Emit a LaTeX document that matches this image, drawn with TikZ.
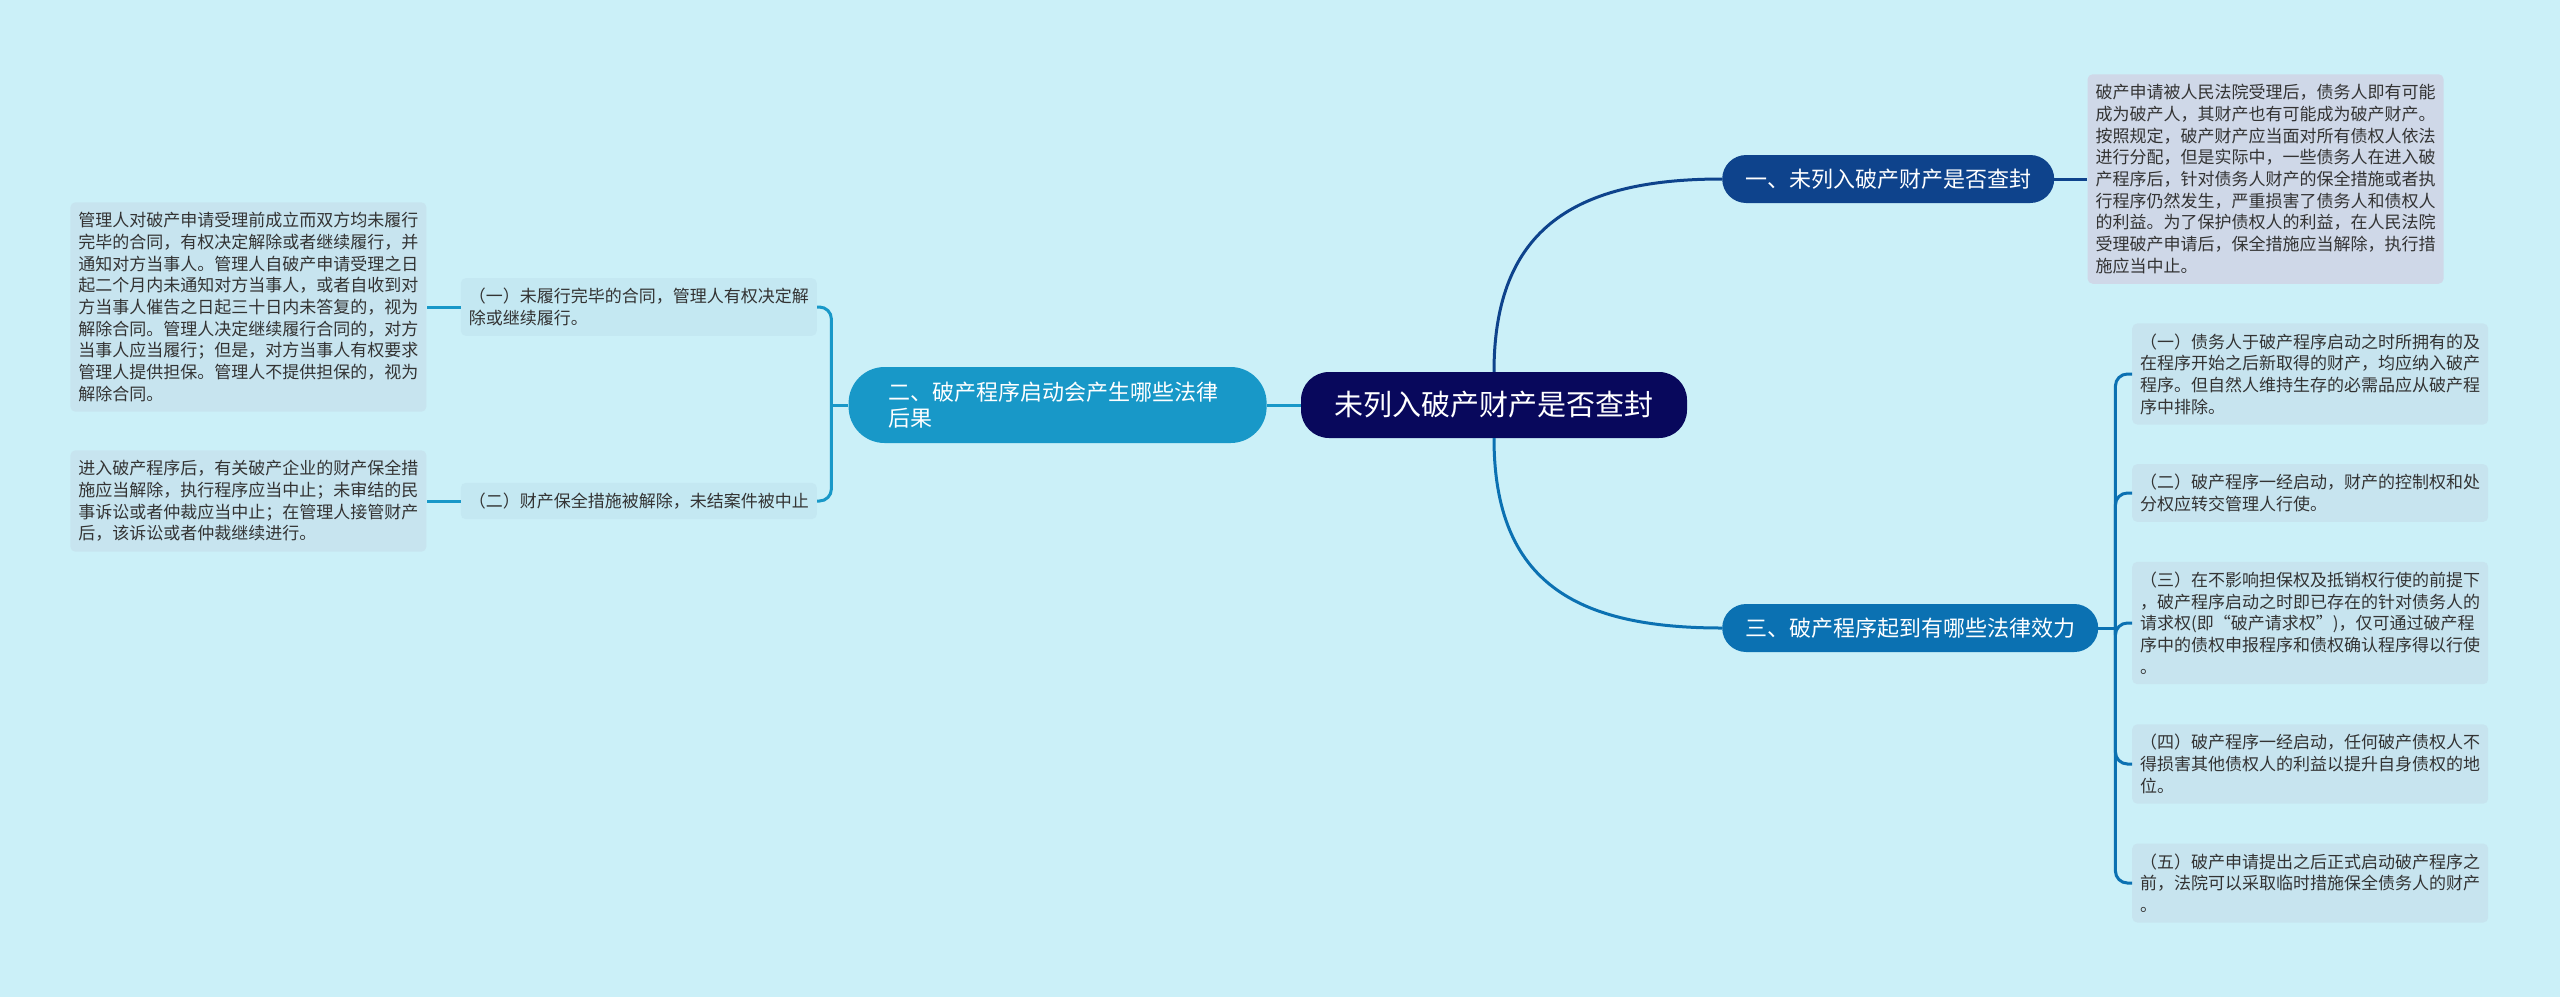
\documentclass[tikz,border=0pt]{standalone}
\usepackage{fontspec}
\usepackage{tikz}
\usetikzlibrary{positioning}
\setmainfont{Noto Sans CJK SC}
\definecolor{bgcol}{HTML}{CBF0F8}
\definecolor{rootcol}{HTML}{08085C}
\definecolor{firstcol}{HTML}{0E438C}
\definecolor{secondcol}{HTML}{1898C8}
\definecolor{thirdcol}{HTML}{0B71B2}
\definecolor{leafcol}{HTML}{C7E4EF}
\definecolor{notecol}{HTML}{CFD8E8}
\definecolor{midcol}{HTML}{C4E8F2}
\definecolor{textgray}{HTML}{333333}
\tikzset{
  rootnode/.style={
    rectangle, rounded corners=28pt,
    minimum width=386pt, minimum height=66pt,
    fill=rootcol, text=white, font=\fontsize{29}{34}\selectfont,
  },
  branch/.style={
    rectangle, rounded corners=24pt,
    minimum height=48pt, inner xsep=23pt,
    text=white, font=\fontsize{22}{26}\selectfont,
  },
  leaf/.style={
    rectangle, rounded corners=5pt,
    text width=340pt, inner xsep=8pt, inner ysep=10pt, align=left,
    fill=leafcol, text=textgray, font=\fontsize{17}{21.7}\selectfont,
  },
  link/.style={line width=3pt},
}
\begin{document}
\begin{tikzpicture}[x=1pt, y=-1pt]

  \fill[bgcol] (0,0) rectangle (2560,997);
  \useasboundingbox (0,0) rectangle (2560,997);

  \node[rootnode] (root) at (1494,405) {未列入破产财产是否查封};
  \node[branch, fill=firstcol, minimum width=332pt, anchor=west] (b1) at (1722,179) {一、未列入破产财产是否查封};
  \node[branch, fill=thirdcol, minimum width=376pt, anchor=west] (b3) at (1722,628) {三、破产程序起到有哪些法律效力};
  \node[branch, fill=secondcol, rounded corners=36pt, minimum height=76pt, inner xsep=40pt,
        text width=338pt, align=left, left=34pt of root] (b2) {二、破产程序启动会产生哪些法律\\后果};

  \node[leaf, fill=notecol, right=33pt of b1] (note) {破产申请被人民法院受理后，债务人即有可能\\成为破产人，其财产也有可能成为破产财产。\\按照规定，破产财产应当面对所有债权人依法\\进行分配，但是实际中，一些债务人在进入破\\产程序后，针对债务人财产的保全措施或者执\\行程序仍然发生，严重损害了债务人和债权人\\的利益。为了保护债权人的利益，在人民法院\\受理破产申请后，保全措施应当解除，执行措\\施应当中止。};

  \node[leaf, anchor=west] (r1) at (2132,374) {（一）债务人于破产程序启动之时所拥有的及\\在程序开始之后新取得的财产，均应纳入破产\\程序。但自然人维持生存的必需品应从破产程\\序中排除。};
  \node[leaf, anchor=west] (r2) at (2132,493) {（二）破产程序一经启动，财产的控制权和处\\分权应转交管理人行使。};
  \node[leaf, anchor=west] (r3) at (2132,623) {（三）在不影响担保权及抵销权行使的前提下\\，破产程序启动之时即已存在的针对债务人的\\请求权(即“破产请求权”)，仅可通过破产程\\序中的债权申报程序和债权确认程序得以行使\\。};
  \node[leaf, anchor=west] (r4) at (2132,764) {（四）破产程序一经启动，任何破产债权人不\\得损害其他债权人的利益以提升自身债权的地\\位。};
  \node[leaf, anchor=west] (r5) at (2132,883) {（五）破产申请提出之后正式启动破产程序之\\前，法院可以采取临时措施保全债务人的财产\\。};

  \node[leaf, fill=midcol, anchor=east] (m1) at (817,307) {（一）未履行完毕的合同，管理人有权决定解\\除或继续履行。};
  \node[leaf, fill=midcol, anchor=east] (m2) at (817,501) {（二）财产保全措施被解除，未结案件被中止};

  \node[leaf, left=34pt of m1] (l1) {管理人对破产申请受理前成立而双方均未履行\\完毕的合同，有权决定解除或者继续履行，并\\通知对方当事人。管理人自破产申请受理之日\\起二个月内未通知对方当事人，或者自收到对\\方当事人催告之日起三十日内未答复的，视为\\解除合同。管理人决定继续履行合同的，对方\\当事人应当履行；但是，对方当事人有权要求\\管理人提供担保。管理人不提供担保的，视为\\解除合同。};
  \node[leaf, left=34pt of m2] (l2) {进入破产程序后，有关破产企业的财产保全措\\施应当解除，执行程序应当中止；未审结的民\\事诉讼或者仲裁应当中止；在管理人接管财产\\后，该诉讼或者仲裁继续进行。};

  \coordinate[left=17pt of b2.west] (s2);
  \coordinate[right=17pt of b3.east] (s3);

  \draw[link, firstcol] (root.north) .. controls +(0,-145) and +(-145,0) .. (b1.west);
  \draw[link, thirdcol] (root.south) .. controls +(0,145) and +(-145,0) .. (b3.west);
  \draw[link, secondcol] (root.west) -- (b2.east);
  \draw[link, firstcol] (b1.east) -- (note.west);

  \draw[link, secondcol] (b2.west) -- (s2);
  \draw[link, secondcol, rounded corners=12pt] (m1.east) -| (s2) |- (m2.east);
  \draw[link, secondcol] (m1.west) -- (l1.east);
  \draw[link, secondcol] (m2.west) -- (l2.east);

  \draw[link, thirdcol] (b3.east) -- (s3);
  \draw[link, thirdcol, rounded corners=12pt] (s3) |- (r1.west);
  \draw[link, thirdcol, rounded corners=12pt] (s3) |- (r2.west);
  \draw[link, thirdcol, rounded corners=12pt] (s3) |- (r3.west);
  \draw[link, thirdcol, rounded corners=12pt] (s3) |- (r4.west);
  \draw[link, thirdcol, rounded corners=12pt] (s3) |- (r5.west);

\end{tikzpicture}
\end{document}
